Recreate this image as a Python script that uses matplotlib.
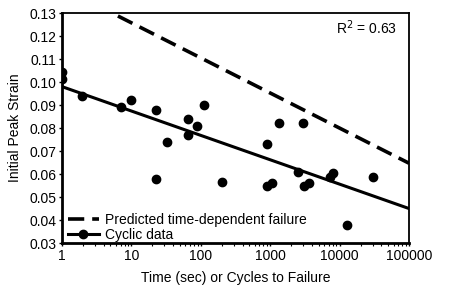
import matplotlib
matplotlib.use('Agg')
import matplotlib.pyplot as plt
import numpy as np

plt.rcParams['font.family'] = ['Liberation Sans', 'DejaVu Sans']

# cyclic data points
cycles = [1, 1, 1.96, 7.0, 9.9, 22.6, 22.6, 32.6, 66, 64.7, 89, 110, 204,
          908, 1326, 2940, 908, 1062, 2490, 3070, 3590, 7270, 8130, 12650, 30600]
strain = [0.1042, 0.1013, 0.094, 0.0891, 0.092, 0.088, 0.0578, 0.0739, 0.084,
          0.0768, 0.081, 0.090, 0.0567, 0.073, 0.082, 0.082, 0.0548, 0.056,
          0.061, 0.0548, 0.056, 0.0588, 0.0603, 0.0377, 0.0588]

# regression line of cyclic data
fit_x = [1, 100000]
fit_y = [0.098, 0.045]

# predicted time-dependent failure
pred_x = [6.4, 100000]
pred_y = [0.1287, 0.0647]

fs = 10

fig = plt.figure(figsize=(4.49, 2.89), dpi=100)
ax = fig.add_axes([0.138, 0.159, 0.773, 0.796])

ax.plot(pred_x, pred_y, 'k--', lw=2.6, dashes=(4.5, 2.2),
        label='Predicted time-dependent failure')
ax.plot(fit_x, fit_y, 'k-', lw=2.2)
ax.plot(cycles, strain, 'ko', ms=6, zorder=3)
# legend proxy for the cyclic data
ax.plot([], [], 'k-o', lw=2.2, ms=6, label='Cyclic data')

ax.set_xscale('log')
ax.set_xlim(1, 100000)
ax.set_ylim(0.03, 0.13)
yt = np.arange(0.03, 0.131, 0.01)
ax.set_yticks(yt)
ax.set_yticklabels([f'{v:.2f}' for v in yt])
ax.set_xticks([1, 10, 100, 1000, 10000, 100000])
ax.set_xticklabels(['1', '10', '100', '1000', '10000', '100000'])

ax.tick_params(which='major', direction='out', length=2.5, width=1, labelsize=fs, pad=1.5)
ax.tick_params(which='minor', direction='out', length=1.8, width=0.8)
ax.tick_params(axis='y', which='minor', left=False)

ax.spines['left'].set_linewidth(2)
ax.spines['bottom'].set_linewidth(2)
ax.spines['top'].set_linewidth(1.3)
ax.spines['right'].set_linewidth(1.3)

ax.set_xlabel('Time (sec) or Cycles to Failure', fontsize=fs, labelpad=6)
ax.set_ylabel('Initial Peak Strain', fontsize=fs, labelpad=5)

ax.text(0.965, 0.975, 'R$^2$ = 0.63', transform=ax.transAxes,
        ha='right', va='top', fontsize=fs)

ax.legend(loc='lower left', frameon=False, fontsize=fs, handlelength=2.3,
          handletextpad=0.4, labelspacing=0.05, borderaxespad=0.0,
          borderpad=0.1, bbox_to_anchor=(0.012, 0.0))

fig.savefig('out.png', dpi=100)
